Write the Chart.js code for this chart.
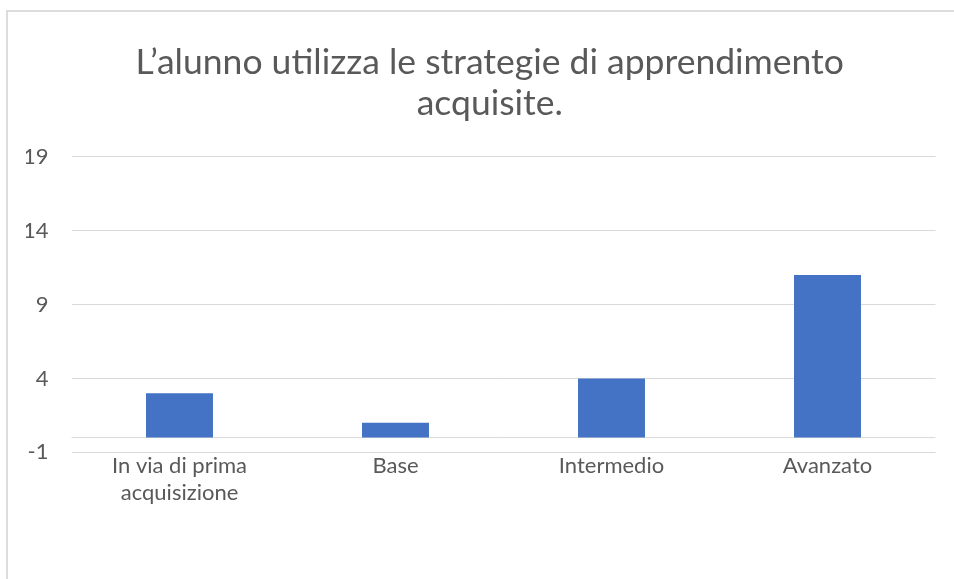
<!DOCTYPE html>
<html lang="it">
<head>
<meta charset="utf-8">
<title>Strategie di apprendimento</title>
<script src="https://cdn.jsdelivr.net/npm/chart.js@4.4.1/dist/chart.umd.min.js"></script>
<style>
    html, body { margin: 0; padding: 0; background: #fff; }
    body { width: 954px; height: 579px; position: relative; overflow: hidden; }
    /* cornice del grafico */
    .cornice {
        position: absolute; left: 6px; top: 10px; right: -10px; bottom: -10px;
        border-left: 2px solid #dcdcdc; border-top: 2px solid #dcdcdc;
    }
    #grafico { position: absolute; left: 0; top: 0; }
</style>
</head>
<body>
<div class="cornice"></div>
<canvas id="grafico" width="954" height="579"></canvas>
<script>
// --- Dati ---
const titolo = ["L\u2019alunno utilizza le strategie di apprendimento", "acquisite."];
const livelli = [["In via di prima", "acquisizione"], "Base", "Intermedio", "Avanzato"];
const alunni = [3, 1, 4, 11];
const tickY = [-1, 4, 9, 14, 19];

const grigioTesto = "#595959";
const grigioGriglia = "#d9d9d9";

// linea dell'asse orizzontale sullo zero
const lineaZero = {
    id: "lineaZero",
    beforeDatasetsDraw(chart) {
        const { ctx, chartArea, scales } = chart;
        const y = scales.y.getPixelForValue(0);
        ctx.save();
        ctx.strokeStyle = grigioGriglia;
        ctx.lineWidth = 1;
        ctx.beginPath();
        ctx.moveTo(chartArea.left, y);
        ctx.lineTo(chartArea.right, y);
        ctx.stroke();
        ctx.restore();
    }
};

// il titolo è centrato sulla cornice, un po' più a destra dell'area del grafico
const spostaTitolo = {
    id: "spostaTitolo",
    afterLayout(chart) {
        const t = chart.titleBlock;
        if (t) { t.left += 9; t.right += 9; }
    }
};

const ctx = document.getElementById("grafico").getContext("2d");
new Chart(ctx, {
    type: "bar",
    data: {
        labels: livelli,
        datasets: [{
            data: alunni,
            backgroundColor: "#4472c4",
            borderWidth: 0,
            categoryPercentage: 1,
            barPercentage: 0.31
        }]
    },
    options: {
        responsive: false,
        animation: false,
        layout: { padding: { left: 26, right: 18.5, top: 42, bottom: 72.5 } },
        plugins: {
            legend: { display: false },
            tooltip: { enabled: false },
            title: {
                display: true,
                text: titolo,
                color: grigioTesto,
                font: { family: "Lato", size: 35.5, weight: "normal", lineHeight: 1.15 },
                padding: { top: 0, bottom: 33 }
            }
        },
        scales: {
            x: {
                grid: { display: false, drawTicks: false },
                border: { display: false },
                ticks: {
                    color: grigioTesto,
                    font: { family: "Lato", size: 22, lineHeight: 1.23 },
                    padding: 0,
                    maxRotation: 0,
                    autoSkip: false
                },
                // le etichette larghe non spostano l'area del grafico
                afterFit: (scala) => {
                    scala.paddingLeft = 0;
                    scala.paddingRight = 0;
                }
            },
            y: {
                min: -1,
                max: 19,
                afterBuildTicks: (scala) => {
                    scala.ticks = tickY.map(v => ({ value: v }));
                },
                afterFit: (scala) => {
                    scala.width = 45.5;
                },
                grid: { color: grigioGriglia, lineWidth: 1, drawTicks: false },
                border: { display: false },
                ticks: {
                    color: grigioTesto,
                    font: { family: "Lato", size: 22 },
                    padding: 23
                }
            }
        }
    },
    plugins: [lineaZero, spostaTitolo]
});
</script>
</body>
</html>
